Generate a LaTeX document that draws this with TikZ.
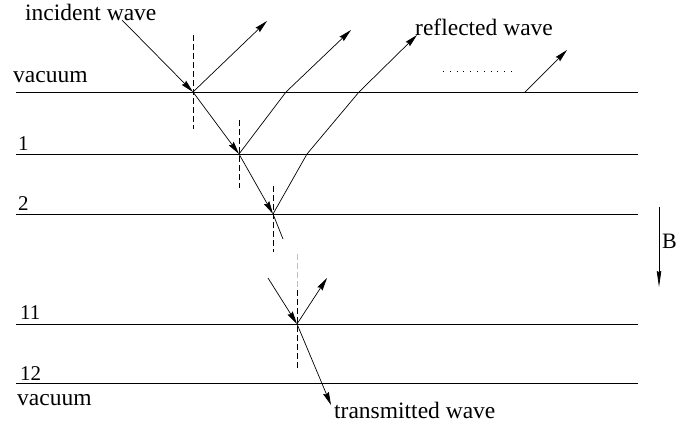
\documentclass[tikz,border=0pt]{standalone}
\usepackage{fontspec}
\setmainfont{Liberation Serif}
\usetikzlibrary{arrows.meta}
\newcommand\wavefont{\fontsize{23.5}{28}\selectfont}
\newcommand\indexfont{\fontsize{21}{25}\selectfont}
\tikzset{
  layer/.style={draw=black, line width=1pt},
  ray/.style={draw=black, line width=0.7pt},
  wave/.style={ray, -{Stealth[length=13pt, width=6pt, inset=1.5pt]}},
  normal/.style={draw=black, line width=0.6pt, dash pattern=on 6pt off 3pt},
  tag/.style={font=\wavefont, inner sep=0pt, anchor=base west},
  index/.style={tag, font=\indexfont}
}
\begin{document}
\begin{tikzpicture}[x=1pt, y=-1pt]
  \useasboundingbox (0,0) rectangle (687,428);

  \foreach \name/\y in {vac/92, one/154, two/214, eleven/324, twelve/383} {
    \coordinate (\name w) at (16,\y);
    \coordinate (\name e) at (638,\y);
    \draw[layer] (\name w) -- (\name e);
  }

  \node[tag] (vactop) at (13,82) {vacuum};
  \node[index] (lone) at (18,150) {1};
  \node[index] (ltwo) at (18,210) {2};
  \node[index] (leleven) at (20,319) {11};
  \node[index] (ltwelve) at (20,380) {12};
  \node[tag] (vacbot) at (17,405) {vacuum};
  \node[tag] (incident) at (25,21) {incident wave};
  \node[tag] (reflected) at (415,36) {reflected wave};
  \node[tag] (transmitted) at (334,418) {transmitted wave};
  \node[index, font=\fontsize{22}{26}\selectfont] (bfield) at (662,248) {B};

  \coordinate (src) at (122,20);
  \coordinate (p0) at (193,92);
  \coordinate (p1) at (239,154);
  \coordinate (p2) at (273,214);
  \coordinate (tr2) at (283,239);
  \coordinate (r0) at (267,21);
  \coordinate (b1) at (286,92);
  \coordinate (r1) at (351,30);
  \coordinate (c2) at (307,154);
  \coordinate (b2) at (359,92);
  \coordinate (r2) at (417,35);
  \coordinate (s9) at (525,92);
  \coordinate (r9) at (567,50);
  \coordinate (in3) at (268,278);
  \coordinate (p3) at (297,324);
  \coordinate (r3) at (327,278);
  \coordinate (t3) at (331,405);

  \draw[wave] (src) -- (p0);
  \draw[wave] (p0) -- (p1);
  \draw[wave] (p1) -- (p2);
  \draw[ray] (p2) -- (tr2);
  \draw[wave] (p0) -- (r0);
  \draw[wave] (p1) -- (b1) -- (r1);
  \draw[wave] (p2) -- (c2) -- (b2) -- (r2);
  \draw[wave] (s9) -- (r9);
  \draw[wave] (in3) -- (p3);
  \draw[wave] (p3) -- (r3);
  \draw[wave] (p3) -- (t3);

  \coordinate (n0a) at (193,35);
  \coordinate (n0b) at (193,129);
  \coordinate (n1a) at (239,120);
  \coordinate (n1b) at (239,188);
  \coordinate (n2a) at (273,186);
  \coordinate (n2b) at (273,252);
  \coordinate (n3a) at (297,254);
  \coordinate (n3m) at (297,290);
  \coordinate (n3b) at (297,368);
  \draw[normal] (n0a) -- (n0b);
  \draw[normal] (n1a) -- (n1b);
  \draw[normal] (n2a) -- (n2b);
  \draw[normal, draw=black!25] (n3a) -- (n3m);
  \draw[normal] (n3m) -- (n3b);

  \coordinate (dotsw) at (443,71);
  \coordinate (dotse) at (512,71);
  \draw[line width=0.8pt, dash pattern=on 0.8pt off 6pt] (dotsw) -- (dotse);

  \coordinate (btop) at (659,207);
  \coordinate (bend) at (659,287);
  \draw[ray, -{Stealth[length=16pt, width=4.5pt, inset=1pt]}] (btop) -- (bend);
\end{tikzpicture}
\end{document}
